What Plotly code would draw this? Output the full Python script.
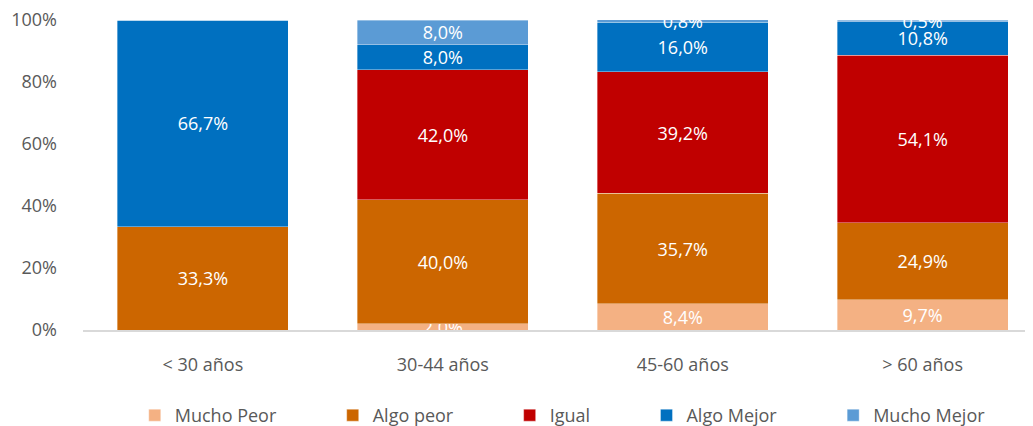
import plotly.graph_objects as go

categorias = ['< 30 años', '30-44 años', '45-60 años', '> 60 años']
mucho_peor = [0.0, 2.0, 8.4, 9.7]
algo_peor = [33.3, 40.0, 35.7, 24.9]
igual = [0.0, 42.0, 39.2, 54.1]
algo_mejor = [66.7, 8.0, 16.0, 10.8]
mucho_mejor = [0.0, 8.0, 0.8, 0.5]
y_ticks = [0, 20, 40, 60, 80, 100]

series = [
    ('Mucho Peor', mucho_peor, '#F4B183'),
    ('Algo peor', algo_peor, '#CC6600'),
    ('Igual', igual, '#C00000'),
    ('Algo Mejor', algo_mejor, '#0070C0'),
    ('Mucho Mejor', mucho_mejor, '#5B9BD5'),
]

fuente = 'Open Sans'
gris = '#595959'
hueco = '\u00a0' * 11


def etiqueta(v):
    return '' if v == 0 else f'{v:.1f}%'.replace('.', ',')


fig = go.Figure()
for i, (nombre, valores, color) in enumerate(series):
    fig.add_trace(go.Bar(
        x=categorias,
        y=valores,
        name=nombre + (hueco if i < len(series) - 1 else ''),
        marker=dict(color=color, line=dict(color='rgba(255,255,255,0.6)', width=0.6)),
        text=[etiqueta(v) for v in valores],
        textposition='inside',
        insidetextanchor='middle',
        textangle=0,
        textfont=dict(color='white', size=18, family=fuente),
        hoverinfo='skip',
    ))

fig.update_layout(
    barmode='stack',
    bargap=0.2875,
    width=1033,
    height=426,
    # la página añade 8 px de margen al cuerpo
    margin=dict(l=75, r=8, t=12, b=104, autoexpand=False),
    plot_bgcolor='white',
    paper_bgcolor='white',
    font=dict(family=fuente, size=18, color=gris),
    uniformtext=dict(mode='show', minsize=18),
    xaxis=dict(
        range=[-0.5, 3.46],
        showline=True, linecolor='#D9D9D9', linewidth=2,
        showgrid=False, ticks='', ticklabelstandoff=17,
        tickfont=dict(size=18, color=gris),
        automargin=False,
    ),
    yaxis=dict(
        range=[0, 100],
        tickvals=y_ticks,
        ticktext=[f'{t}%' for t in y_ticks],
        showgrid=False, zeroline=False, showline=False, ticks='',
        ticklabelstandoff=25, ticklabeloverflow='allow',
        tickfont=dict(size=18, color=gris),
        automargin=False,
    ),
    legend=dict(
        orientation='h', x=0.505, xanchor='center', y=-0.216, yanchor='top',
        font=dict(size=18, color=gris), traceorder='normal',
        itemwidth=30,
    ),
    showlegend=True,
)

fig.write_html('out.html')
